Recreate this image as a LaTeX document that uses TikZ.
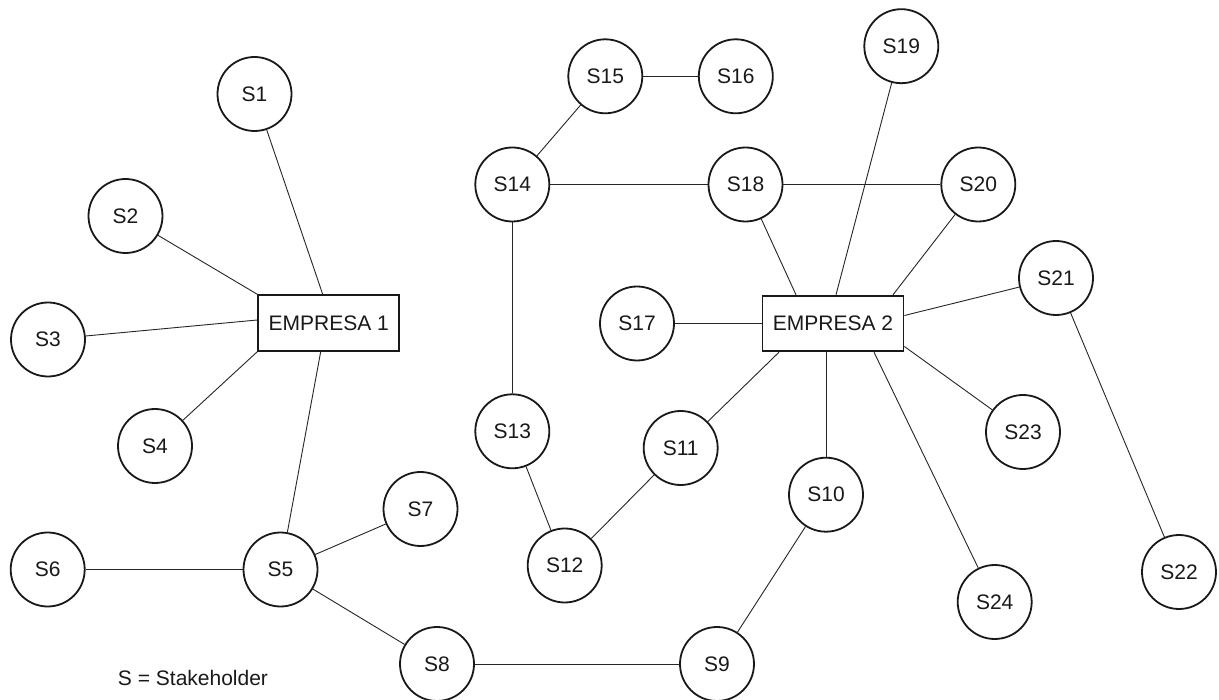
\documentclass[tikz,border=0pt]{standalone}
\usepackage{fontspec}
\setmainfont{Liberation Sans}
\usetikzlibrary{calc}
\begin{document}
\begin{tikzpicture}[x=1pt,y=-1pt,
  every node/.style={font=\fontsize{21}{25}\selectfont, text=black!90},
  actor/.style={circle, draw=black!90, line width=1.8pt, minimum size=74pt, inner sep=0pt},
  firm/.style={rectangle, draw=black!90, line width=1.8pt, minimum width=141pt, minimum height=55.6pt, inner sep=0pt},
  link/.style={draw=black!85, line width=0.9pt}]
\useasboundingbox (0,0) rectangle (1219,700);
\fill[white] (0,0) rectangle (1219,700);
\begin{scope}
\clip (0,0) rectangle (1219,700);
% companies
\node[firm] (e1) at (328.7,323) {EMPRESA 1};
\node[firm] (e2) at (833,323.5) {EMPRESA 2};
% stakeholders
\node[actor] (s1)  at (254.5,94)    {S1};
\node[actor] (s2)  at (125.5,216)   {S2};
\node[actor] (s3)  at (48,339.5)    {S3};
\node[actor] (s4)  at (155,446)     {S4};
\node[actor] (s5)  at (280.5,569.5) {S5};
\node[actor] (s6)  at (47.7,569.5)  {S6};
\node[actor] (s7)  at (420.5,509)   {S7};
\node[actor] (s8)  at (437,664)     {S8};
\node[actor] (s9)  at (717,664)     {S9};
\node[actor] (s10) at (826,494.7)   {S10};
\node[actor] (s11) at (680.7,448)   {S11};
\node[actor] (s12) at (564.7,565.5) {S12};
\node[actor] (s13) at (512.3,431.3) {S13};
\node[actor] (s14) at (512.3,184.5) {S14};
\node[actor] (s15) at (605.3,76.3)  {S15};
\node[actor] (s16) at (735.8,76.3)  {S16};
\node[actor] (s17) at (637,323.5)   {S17};
\node[actor] (s18) at (745.5,184.5) {S18};
\node[actor] (s19) at (901.3,46.2)  {S19};
\node[actor] (s20) at (978.3,184.5) {S20};
\node[actor] (s21) at (1056,278)    {S21};
\node[actor] (s22) at (1179,572)    {S22};
\node[actor] (s23) at (1023,432)    {S23};
\node[actor] (s24) at (994.7,602)   {S24};
% legend
\node (legend) at (193,678) {S = Stakeholder};
% links of EMPRESA 1
\draw[link] (s1) -- ([xshift=-6]e1.north);
\draw[link] (s2) -- (e1.north west);
\draw[link] (s3) -- ([yshift=3]e1.west);
\draw[link] (s4) -- (e1.south west);
\draw[link] ([xshift=-8]e1.south) -- (s5);
% links of EMPRESA 2
\draw[link] (s17) -- (e2.west);
\draw[link] (s18) -- ([xshift=-37]e2.north);
\draw[link] (s19) -- ([xshift=3]e2.north);
\draw[link] (s20) -- ([xshift=60]e2.north);
\draw[link] (s21) -- ([yshift=8]e2.east);
\draw[link] (s23) -- ([yshift=-23]e2.east);
\draw[link] (s24) -- ([xshift=41]e2.south);
\draw[link] (s10) -- ([xshift=-7]e2.south);
\draw[link] (s11) -- ([xshift=-54]e2.south);
% links between stakeholders
\draw[link] (s5) -- (s6);
\draw[link] (s5) -- (s7);
\draw[link] (s5) -- (s8);
\draw[link] (s8) -- (s9);
\draw[link] (s9) -- (s10);
\draw[link] (s12) -- (s11);
\draw[link] (s12) -- (s13);
\draw[link] (s13) -- (s14);
\draw[link] (s14) -- (s15);
\draw[link] (s15) -- (s16);
\draw[link] (s14) -- (s18);
\draw[link] (s18) -- (s20);
\draw[link] (s21) -- (s22);
\end{scope}
\end{tikzpicture}
\end{document}
